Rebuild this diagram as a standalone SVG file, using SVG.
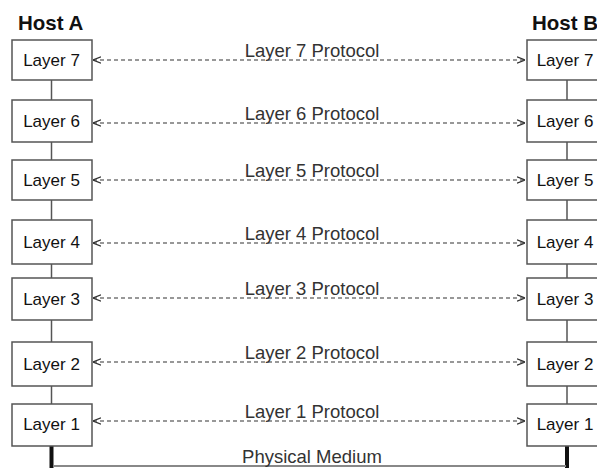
<svg xmlns="http://www.w3.org/2000/svg" width="597" height="468" viewBox="0 0 597 468">
<defs>
<style>
.title{font-family:"Liberation Sans",Arial,sans-serif;font-size:20.5px;font-weight:bold;fill:#111}
.box{fill:#fff;stroke:#555;stroke-width:1.5}
.blabel{font-family:"Liberation Sans",Arial,sans-serif;font-size:17px;fill:#111;text-anchor:middle}
.plabel{font-family:"Liberation Sans",Arial,sans-serif;font-size:18.5px;fill:#333;text-anchor:middle}
.link{stroke:#555;stroke-width:1.5;fill:none}
.proto{stroke:#333;stroke-width:1.2;stroke-dasharray:4 3;fill:none;marker-start:url(#ah);marker-end:url(#ah)}
.med{stroke:#111;stroke-width:4;fill:none}
</style>
<marker id="ah" viewBox="0 0 10 10" refX="10" refY="5" markerWidth="8" markerHeight="8" markerUnits="userSpaceOnUse" orient="auto-start-reverse">
<path d="M0,1 L10,5 L0,9" fill="none" stroke="#333" stroke-width="1.5"/>
</marker>
</defs>
<rect width="597" height="468" fill="#fff"/>
<text class="title" x="18" y="30">Host A</text>
<text class="title" x="532" y="30">Host B</text>

<g id="connectors">
<line class="link" x1="51.5" y1="80" x2="51.5" y2="100"/>
<line class="link" x1="51.5" y1="142" x2="51.5" y2="160"/>
<line class="link" x1="51.5" y1="200" x2="51.5" y2="220"/>
<line class="link" x1="51.5" y1="264" x2="51.5" y2="278"/>
<line class="link" x1="51.5" y1="320" x2="51.5" y2="342"/>
<line class="link" x1="51.5" y1="386" x2="51.5" y2="404"/>
<line class="link" x1="567" y1="80" x2="567" y2="100"/>
<line class="link" x1="567" y1="142" x2="567" y2="160"/>
<line class="link" x1="567" y1="200" x2="567" y2="220"/>
<line class="link" x1="567" y1="264" x2="567" y2="278"/>
<line class="link" x1="567" y1="320" x2="567" y2="342"/>
<line class="link" x1="567" y1="386" x2="567" y2="404"/>
<line class="proto" x1="93" y1="60" x2="525" y2="60"/>
<line class="proto" x1="93" y1="123" x2="525" y2="123"/>
<line class="proto" x1="93" y1="180" x2="525" y2="180"/>
<line class="proto" x1="93" y1="243" x2="525" y2="243"/>
<line class="proto" x1="93" y1="298" x2="525" y2="298"/>
<line class="proto" x1="93" y1="362" x2="525" y2="362"/>
<line class="proto" x1="93" y1="421" x2="525" y2="421"/>
<line class="med" x1="51.5" y1="446" x2="51.5" y2="468"/>
<line class="med" x1="567" y1="446" x2="567" y2="468"/>
<line stroke="#888" stroke-width="2" x1="53" y1="466" x2="566" y2="466"/>
<text class="plabel" x="312" y="57">Layer 7 Protocol</text>
<text class="plabel" x="312" y="120">Layer 6 Protocol</text>
<text class="plabel" x="312" y="177">Layer 5 Protocol</text>
<text class="plabel" x="312" y="240">Layer 4 Protocol</text>
<text class="plabel" x="312" y="295">Layer 3 Protocol</text>
<text class="plabel" x="312" y="359">Layer 2 Protocol</text>
<text class="plabel" x="312" y="418">Layer 1 Protocol</text>
<text class="plabel" x="312" y="463">Physical Medium</text>
</g>

<g id="a7"><rect class="box" x="12" y="40" width="80" height="40"/><text class="blabel" x="51.5" y="66">Layer 7</text></g>
<g id="a6"><rect class="box" x="12" y="100" width="80" height="42"/><text class="blabel" x="51.5" y="127">Layer 6</text></g>
<g id="a5"><rect class="box" x="12" y="160" width="80" height="40"/><text class="blabel" x="51.5" y="186">Layer 5</text></g>
<g id="a4"><rect class="box" x="12" y="220" width="80" height="44"/><text class="blabel" x="51.5" y="248">Layer 4</text></g>
<g id="a3"><rect class="box" x="12" y="278" width="80" height="42"/><text class="blabel" x="51.5" y="305">Layer 3</text></g>
<g id="a2"><rect class="box" x="12" y="342" width="80" height="44"/><text class="blabel" x="51.5" y="370">Layer 2</text></g>
<g id="a1"><rect class="box" x="12" y="404" width="80" height="42"/><text class="blabel" x="51.5" y="430">Layer 1</text></g>

<g id="b7"><rect class="box" x="527" y="40" width="80" height="40"/><text class="blabel" x="565" y="66">Layer 7</text></g>
<g id="b6"><rect class="box" x="527" y="100" width="80" height="42"/><text class="blabel" x="565" y="127">Layer 6</text></g>
<g id="b5"><rect class="box" x="527" y="160" width="80" height="40"/><text class="blabel" x="565" y="186">Layer 5</text></g>
<g id="b4"><rect class="box" x="527" y="220" width="80" height="44"/><text class="blabel" x="565" y="248">Layer 4</text></g>
<g id="b3"><rect class="box" x="527" y="278" width="80" height="42"/><text class="blabel" x="565" y="305">Layer 3</text></g>
<g id="b2"><rect class="box" x="527" y="342" width="80" height="44"/><text class="blabel" x="565" y="370">Layer 2</text></g>
<g id="b1"><rect class="box" x="527" y="404" width="80" height="42"/><text class="blabel" x="565" y="430">Layer 1</text></g>
</svg>
